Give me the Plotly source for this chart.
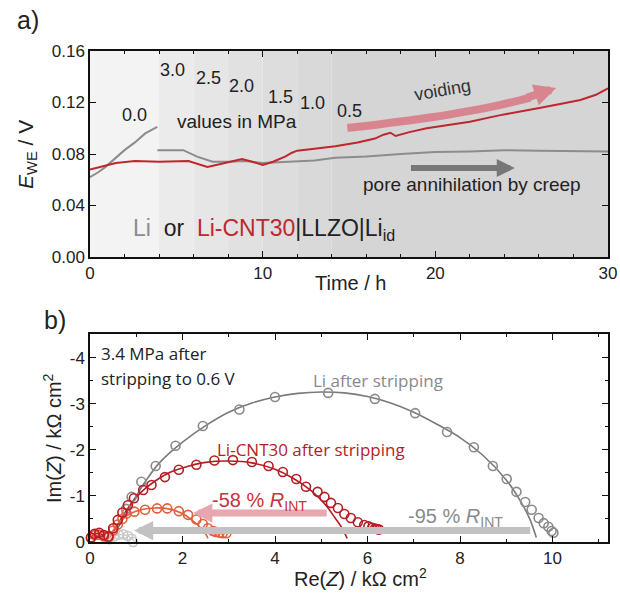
import plotly.graph_objects as go

W, H = 620, 597

# ---------------- panel a data ----------------
li_t1 = [0, 0.5, 0.9, 1.5, 2.0, 2.6, 3.2, 3.6, 3.9]
li_e1 = [0.062, 0.066, 0.070, 0.077, 0.083, 0.089, 0.096, 0.099, 0.101]
li_t2 = [3.9, 4.5, 5.4, 6.2, 7.1, 8.0, 9.0, 10.0, 11.0, 12.0, 13.0, 14.2, 16, 18, 20, 22, 24, 26, 28, 30]
li_e2 = [0.083, 0.083, 0.083, 0.078, 0.074, 0.074, 0.0745, 0.073, 0.0735, 0.074, 0.075, 0.077,
         0.078, 0.080, 0.0815, 0.082, 0.083, 0.0825, 0.082, 0.082]
cnt_t = [0, 0.9, 1.5, 2.6, 4, 5.7, 6.3, 6.8, 7.5, 8.8, 9.4, 10.0, 10.6, 11.3, 11.7, 12.0, 13.0, 14.2,
         15.5, 16.5, 17.0, 17.4, 17.7, 18.5, 19.5, 20.8, 22, 23.7, 25, 26.1, 27.3, 28.4, 29.3, 30]
cnt_e = [0.068, 0.071, 0.073, 0.0745, 0.074, 0.0745, 0.072, 0.070, 0.072, 0.076, 0.074, 0.0715, 0.074,
         0.078, 0.081, 0.0826, 0.084, 0.086, 0.089, 0.092, 0.095, 0.0965, 0.094, 0.097, 0.100, 0.1025,
         0.105, 0.110, 0.113, 0.116, 0.119, 0.122, 0.126, 0.131]
band_edges = [0, 4, 6, 8, 10, 12, 14, 30]
band_colors = ["#f3f3f4", "#ebebeb", "#e6e6e6", "#e1e1e1", "#dddddd", "#d9d9d9", "#d5d5d5"]
pressure_labels = ["0.0", "3.0", "2.5", "2.0", "1.5", "1.0", "0.5"]
pressure_x = [2.6, 4.8, 6.85, 8.8, 11.05, 12.9, 15.05]
pressure_y = [0.110, 0.145, 0.139, 0.133, 0.124, 0.120, 0.1135]
voiding_t = [14.9, 17.0, 19.9, 22.0, 23.7, 25.5]
voiding_e = [0.1002, 0.1035, 0.1087, 0.1135, 0.118, 0.1238]
a_xticks = [0, 10, 20, 30]
a_yticks = [0, 0.04, 0.08, 0.12, 0.16]
a_yticktext = ["0.00", "0.04", "0.08", "0.12", "0.16"]

# ---------------- panel b data ----------------
li_re = [0.78, 0.90, 1.11, 1.42, 1.85, 2.44, 3.23, 4.0, 5.15, 6.16, 7.03, 7.72, 8.30, 8.71, 9.01,
         9.22, 9.41, 9.55, 9.70, 9.81, 9.91, 9.98, 10.02]
li_im = [-0.72, -0.98, -1.31, -1.65, -2.09, -2.52, -2.88, -3.15, -3.24, -3.11, -2.80, -2.39, -2.06,
         -1.65, -1.37, -1.09, -0.87, -0.70, -0.52, -0.41, -0.33, -0.24, -0.20]
li_fit_re = [0.45, 0.6, 0.8, 1.0, 1.2, 1.5, 2.0, 2.5, 3.0, 3.5, 4.0, 4.5, 5.0, 5.5, 6.0, 6.5, 7.0,
             7.5, 8.0, 8.5, 9.0, 9.3, 9.5, 9.65]
li_fit_im = [-0.05, -0.3, -0.65, -1.0, -1.32, -1.72, -2.17, -2.53, -2.82, -3.02, -3.15, -3.23, -3.26,
             -3.24, -3.16, -3.02, -2.82, -2.56, -2.27, -1.88, -1.35, -0.9, -0.52, -0.1]
li2_re = [0.42, 0.52, 0.62, 0.72, 0.82, 0.90, 0.93]
li2_im = [-0.06, -0.12, -0.16, -0.17, -0.13, -0.07, 0.0]
li2_fit_re = [0.35, 0.5, 0.65, 0.8, 0.9, 0.95]
li2_fit_im = [-0.05, -0.12, -0.16, -0.14, -0.08, -0.02]

cnt_re = [0.02, 0.1, 0.2, 0.3, 0.4, 0.5, 0.6, 0.7, 0.82, 0.95, 1.15, 1.33, 1.62, 1.92, 2.30, 2.69,
          3.09, 3.50, 3.86, 4.17, 4.46, 4.67, 4.92, 5.07, 5.21, 5.36, 5.50, 5.64, 5.79, 5.93, 6.02,
          6.10, 6.16, 6.21, 6.25]
cnt_im = [-0.1, -0.18, -0.2, -0.15, -0.12, -0.3, -0.48, -0.64, -0.8, -0.95, -1.13, -1.24, -1.41,
          -1.57, -1.68, -1.77, -1.78, -1.74, -1.65, -1.52, -1.37, -1.20, -1.09, -0.98, -0.85, -0.74,
          -0.61, -0.52, -0.43, -0.37, -0.34, -0.31, -0.29, -0.28, -0.27]
cnt_fit_re = [0.0, 0.1, 0.2, 0.3, 0.4, 0.5, 0.7, 0.9, 1.1, 1.4, 1.7, 2.0, 2.5, 3.0, 3.5, 4.0, 4.4,
              4.8, 5.1, 5.3, 5.45, 5.56]
cnt_fit_im = [-0.08, -0.17, -0.19, -0.14, -0.1, -0.22, -0.55, -0.85, -1.08, -1.32, -1.5, -1.61,
              -1.73, -1.76, -1.72, -1.58, -1.38, -1.1, -0.8, -0.52, -0.3, -0.08]
cnt2_re = [0.02, 0.1, 0.2, 0.3, 0.4, 0.5, 0.6, 0.7, 0.79, 0.96, 1.19, 1.45, 1.67, 1.92, 2.12, 2.30,
           2.44, 2.55, 2.66, 2.72, 2.80, 2.87, 2.95]
cnt2_im = [-0.08, -0.15, -0.16, -0.12, -0.1, -0.25, -0.38, -0.5, -0.62, -0.66, -0.70, -0.73, -0.73,
           -0.67, -0.59, -0.49, -0.39, -0.30, -0.24, -0.22, -0.20, -0.19, -0.19]
cnt2_fit_re = [0.0, 0.1, 0.2, 0.3, 0.4, 0.5, 0.7, 0.9, 1.1, 1.4, 1.7, 2.0, 2.2, 2.4, 2.5, 2.55]
cnt2_fit_im = [-0.07, -0.14, -0.15, -0.12, -0.1, -0.25, -0.5, -0.63, -0.7, -0.74, -0.72, -0.62,
               -0.48, -0.3, -0.18, -0.08]
b_xticks = [0, 2, 4, 6, 8, 10]
b_yticks = [0, -1, -2, -3, -4]
b_yticktext = ["0", "-1", "-2", "-3", "-4"]

GRAY = "#8c8c8c"
RED = "#c0262e"
DRED = "#b51d25"
ORANGE = "#e0603f"
LGRAY = "#c9c9c9"
FONT = "Liberation Sans, Arial, sans-serif"
FONT_B = "Open Sans, sans-serif"

fig = go.Figure()

# panel a lines
fig.add_trace(go.Scatter(x=li_t1, y=li_e1, mode="lines", line=dict(color=GRAY, width=2),
                         xaxis="x", yaxis="y"))
fig.add_trace(go.Scatter(x=li_t2, y=li_e2, mode="lines", line=dict(color=GRAY, width=2),
                         xaxis="x", yaxis="y"))
fig.add_trace(go.Scatter(x=cnt_t, y=cnt_e, mode="lines", line=dict(color=RED, width=2),
                         xaxis="x", yaxis="y"))
PINK_A = "#d9858f"
fig.add_trace(go.Scatter(x=voiding_t, y=voiding_e, mode="lines", line=dict(color=PINK_A, width=8),
                         line_shape="spline", xaxis="x", yaxis="y"))

# panel b: fits then markers
def add_b(xs, ys, mode, **kw):
    fig.add_trace(go.Scatter(x=xs, y=ys, mode=mode, xaxis="x2", yaxis="y2", cliponaxis=False, **kw))

add_b(li_fit_re, li_fit_im, "lines", line=dict(color="#7a7a7a", width=1.6), line_shape="spline")
add_b(li2_fit_re, li2_fit_im, "lines", line=dict(color=LGRAY, width=1.4), line_shape="spline")
add_b(cnt_fit_re, cnt_fit_im, "lines", line=dict(color=DRED, width=1.6), line_shape="spline")
add_b(cnt2_fit_re, cnt2_fit_im, "lines", line=dict(color=ORANGE, width=1.6), line_shape="spline")
mk = lambda c: dict(symbol="circle-open", size=9, color=c, line=dict(width=1.6, color=c))
add_b(li2_re, li2_im, "markers", marker=mk(LGRAY))
add_b(li_re, li_im, "markers", marker=mk("#8a8a8a"))
add_b(cnt2_re, cnt2_im, "markers", marker=mk(ORANGE))
add_b(cnt_re, cnt_im, "markers", marker=mk(DRED))

# background bands for panel a
shapes = []
for i, c in enumerate(band_colors):
    shapes.append(dict(type="rect", xref="x", yref="y", x0=band_edges[i], x1=band_edges[i + 1],
                       y0=0, y1=0.16, fillcolor=c, line=dict(width=0), layer="below"))

ann = []
for lab, xx, yy in zip(pressure_labels, pressure_x, pressure_y):
    ann.append(dict(x=xx, y=yy, xref="x", yref="y", text=lab, showarrow=False,
                    font=dict(family=FONT, size=18, color="#222")))
ann.append(dict(x=8.5, y=0.105, xref="x", yref="y", text="values in MPa", showarrow=False,
                font=dict(family=FONT, size=19, color="#222")))
ann.append(dict(x=20.4, y=0.130, xref="x", yref="y", text="voiding", showarrow=False, textangle=-10,
                font=dict(family=FONT, size=18, color="#333")))
ann.append(dict(x=22.1, y=0.056, xref="x", yref="y", text="pore annihilation by creep",
                showarrow=False, font=dict(family=FONT, size=19, color="#222")))
ann.append(dict(x=10.1, y=0.021, xref="x", yref="y",
                text=("<span style='color:#8c8c8c'>Li</span>\u00a0\u00a0or\u00a0\u00a0"
                      "<span style='color:#c0262e'>Li-CNT30</span>|LLZO|Li<sub>id</sub>"),
                showarrow=False, font=dict(family=FONT, size=23, color="#222")))
# arrows panel a
ann.append(dict(x=27.0, y=0.1313, ax=25.2, ay=0.1233, xref="x", yref="y", axref="x", ayref="y",
                text="", showarrow=True, arrowhead=2, arrowsize=0.55, arrowwidth=8,
                arrowcolor=PINK_A))
ann.append(dict(x=24.6, y=0.0691, ax=18.5, ay=0.0691, xref="x", yref="y", axref="x", ayref="y",
                text="", showarrow=True, arrowhead=2, arrowsize=0.6, arrowwidth=6,
                arrowcolor="#777777"))
# arrows panel b
ann.append(dict(x=0.95, y=-0.25, ax=9.55, ay=-0.25, xref="x2", yref="y2", axref="x2", ayref="y2",
                text="", showarrow=True, arrowhead=2, arrowsize=0.55, arrowwidth=7,
                arrowcolor="#c2c2c2"))
ann.append(dict(x=2.23, y=-0.63, ax=5.15, ay=-0.63, xref="x2", yref="y2", axref="x2", ayref="y2",
                text="", showarrow=True, arrowhead=2, arrowsize=0.55, arrowwidth=7,
                arrowcolor="#e8a6af"))

def paper_text(px, py, text, size, color="#222", family=FONT, xanchor="center", angle=0):
    ann.append(dict(x=px / W, y=1 - py / H, xref="paper", yref="paper", text=text,
                    showarrow=False, xanchor=xanchor, yanchor="middle", textangle=angle,
                    font=dict(family=family, size=size, color=color)))

paper_text(28, 20, "a)", 25)
paper_text(55, 320, "b)", 25)
paper_text(351, 283, "Time / h", 20)
paper_text(27, 155, "<i>E</i><sub>WE</sub> / V", 21, angle=-90)
paper_text(360, 577, "Re(<i>Z</i>) / kΩ cm<sup>2</sup>", 20)
paper_text(52, 438, "Im(<i>Z</i>) / kΩ cm<sup>2</sup>", 20, angle=-90)
paper_text(99, 353, "3.4 MPa after", 17, family=FONT_B, xanchor="left")
paper_text(99, 378, "stripping to 0.6 V", 17, family=FONT_B, xanchor="left")
paper_text(378, 380, "Li after stripping", 17, color="#8a8a8a", family=FONT_B)
paper_text(311, 449, "Li-CNT30 after stripping", 17, color=DRED, family=FONT_B)
paper_text(259, 501, "-58 % <i>R</i><sub>INT</sub>", 20, color="#c8323c")
paper_text(455, 517, "-95 % <i>R</i><sub>INT</sub>", 20, color="#8a8a8a")

axis_common = dict(showline=True, linecolor="#111", linewidth=1.5, mirror="ticks", ticks="inside",
                   ticklen=6, tickwidth=1.3, tickcolor="#111", showgrid=False, zeroline=False,
                   automargin=False, ticklabeloverflow="allow",
                   tickfont=dict(family=FONT, size=17, color="#222"))

XD = [90 / W, 608 / W]

fig.update_layout(
    width=W, height=H, margin=dict(l=0, r=0, t=0, b=0, autoexpand=False),
    paper_bgcolor="white", plot_bgcolor="white", showlegend=False,
    shapes=shapes, annotations=ann,
    xaxis=dict(domain=XD, range=[0, 30], anchor="y", tickvals=a_xticks,
               minor=dict(dtick=2, ticks="inside", ticklen=3, tickcolor="#111"),
               **axis_common),
    yaxis=dict(domain=[1 - 257 / H, 1 - 51 / H], range=[0, 0.16], anchor="x",
               tickvals=a_yticks, ticktext=a_yticktext, **axis_common),
    xaxis2=dict(domain=XD, range=[0, 11.2], anchor="y2", tickvals=b_xticks,
                minor=dict(dtick=1, ticks="inside", ticklen=3, tickcolor="#111"),
                **axis_common),
    yaxis2=dict(domain=[1 - 542 / H, 1 - 334 / H], range=[0, -4.52], anchor="x2",
                tickvals=b_yticks, ticktext=b_yticktext,
                minor=dict(dtick=0.5, ticks="inside", ticklen=3, tickcolor="#111"),
                **axis_common),
)

fig.write_html("out.html")
